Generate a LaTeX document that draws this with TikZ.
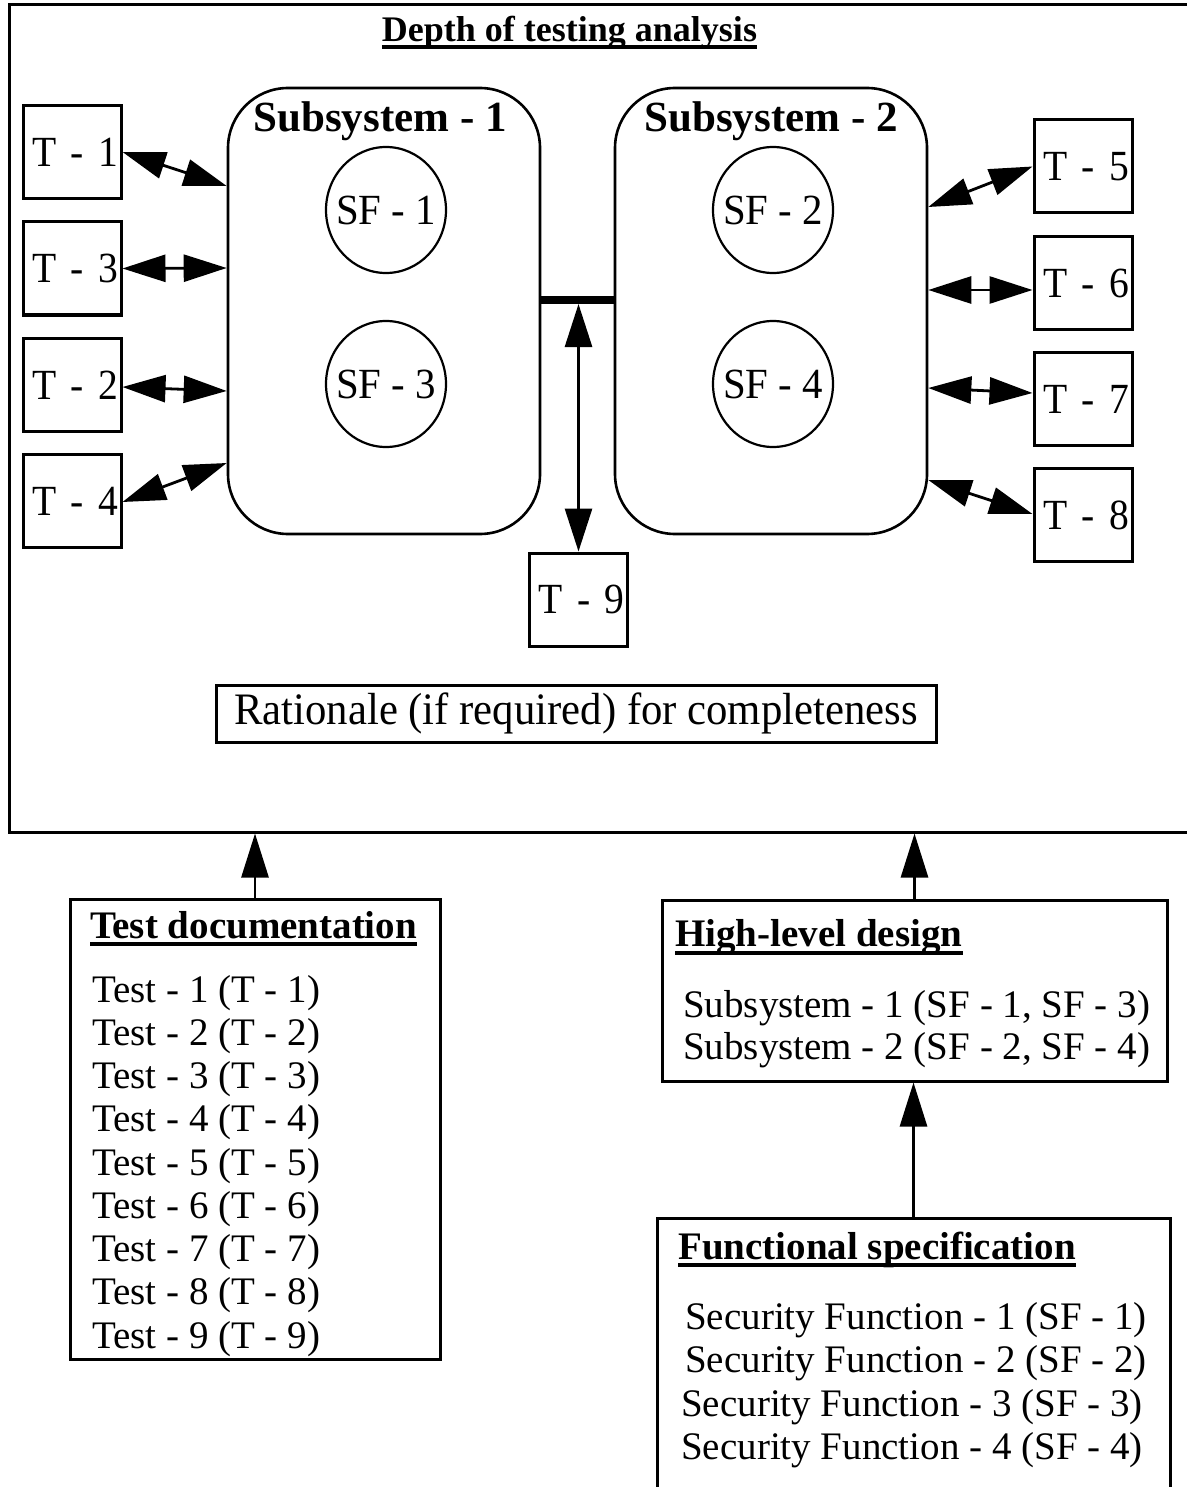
\documentclass[tikz,border=0pt]{standalone}
\usepackage{fontspec}
\setmainfont{Liberation Serif}
\newfontfamily\condfont{Liberation Serif}[FakeStretch=0.95]
\newfontfamily\narrowfont{Liberation Serif}[FakeStretch=0.92, WordSpace=0.6]
\usetikzlibrary{arrows.meta,shapes.geometric}
\tikzset{
 tbox/.style={draw, line width=3pt, minimum width=98pt, minimum height=93pt, text width=92pt, align=right, inner xsep=3pt, inner ysep=0pt, font=\narrowfont\fontsize{43}{47}\selectfont},
 sfell/.style={draw, ellipse, line width=2.2pt, minimum width=120pt, minimum height=126pt, inner sep=0pt},
 sftext/.style={font=\condfont\fontsize{43}{47}\selectfont, inner sep=0pt},
 subsys/.style={draw, line width=2.6pt, rounded corners=60pt, minimum width=312pt, minimum height=446pt, inner sep=0pt},
 subtitle/.style={anchor=base, inner sep=0pt, font=\bfseries\fontsize{43}{47}\selectfont},
 dbl/.style={line width=2.8pt, {Triangle[length=43pt,width=27pt]}-{Triangle[length=43pt,width=27pt]}},
 arr/.style={line width=2.8pt, -{Triangle[length=44pt,width=27pt]}},
 boxstyle/.style={draw, line width=3pt, inner sep=0pt},
 bodytext/.style={anchor=base west, inner sep=0pt, font=\fontsize{39}{43}\selectfont},
 headtext/.style={anchor=base west, inner sep=0pt, font=\bfseries\fontsize{39}{43}\selectfont},
 uline/.style={line width=3.2pt},
}
\begin{document}
\begin{tikzpicture}[x=1pt,y=-1pt]
\useasboundingbox (0,0) rectangle (1186,1487);
% outer frame
\node[boxstyle, minimum width=1190pt, minimum height=827pt] (outer) at (604,418.5) {};
\node[anchor=base, inner sep=0pt, font=\bfseries\fontsize{36}{40}\selectfont] (title) at (569.5,42) {Depth of testing analysis};
\draw[uline] ([yshift=-5pt]title.base west) -- ([yshift=-5pt]title.base east);
% subsystems
\node[subsys] (s1) at (384,311) {};
\node[subsys] (s2) at (771,311) {};
\node[subtitle] (s1t) at (380,132) {Subsystem - 1};
\node[subtitle] (s2t) at (771,132) {Subsystem - 2};
% security functions
\node[sfell] (sf1) at (386,210) {};
\node[sfell] (sf3) at (386,384) {};
\node[sfell] (sf2) at (773,210) {};
\node[sfell] (sf4) at (773,384) {};
\node[sftext] (sf1t) at (sf1.center) {SF - 1};
\node[sftext] (sf3t) at (sf3.center) {SF - 3};
\node[sftext] (sf2t) at (sf2.center) {SF - 2};
\node[sftext] (sf4t) at (sf4.center) {SF - 4};
% tests
\node[tbox] (t1) at (72,152) {T - 1};
\node[tbox] (t3) at (72,268.5) {T - 3};
\node[tbox] (t2) at (72,385) {T - 2};
\node[tbox] (t4) at (72,501) {T - 4};
\node[tbox] (t5) at (1083,166.5) {T - 5};
\node[tbox] (t6) at (1083,283) {T - 6};
\node[tbox] (t7) at (1083,399) {T - 7};
\node[tbox] (t8) at (1083,515) {T - 8};
\node[tbox] (t9) at (578.5,599.5) {T - 9};
% connectors
\draw[dbl] (t1.east) -- ([yshift=125pt]s1.west);
\draw[dbl] (t3.east) -- ([yshift=43pt]s1.west);
\draw[dbl] ([yshift=-2pt]t2.east) -- ([yshift=-80pt]s1.west);
\draw[dbl] ([yshift=-1pt]t4.east) -- ([yshift=-152pt]s1.west);
\draw[dbl] (t5.west) -- ([yshift=104pt]s2.east);
\draw[dbl] ([yshift=-7pt]t6.west) -- ([yshift=21pt]s2.east);
\draw[dbl] ([yshift=6pt]t7.west) -- ([yshift=-77pt]s2.east);
\draw[dbl] ([yshift=1pt]t8.west) -- ([yshift=-169pt]s2.east);
\draw[line width=8pt] ([yshift=11pt]s1.east) -- ([yshift=11pt]s2.west);
\coordinate (barmid) at (578.5,304);
\draw[dbl] (barmid) -- (t9.north);
% rationale
\node[boxstyle, minimum width=720pt, minimum height=57pt, font=\condfont\fontsize{45}{49}\selectfont] (rat) at (576,713.5) {Rationale (if required) for completeness};
% test documentation
\node[boxstyle, minimum width=370pt, minimum height=460pt] (td) at (255,1129) {};
\node[headtext] (tdh) at (90,938) {Test documentation};
\draw[uline] ([yshift=-6pt]tdh.base west) -- ([yshift=-6pt]tdh.base east);
\foreach \i in {1,...,9}
  \node[bodytext] (td\i) at (92,{1002+43.25*(\i-1)}) {Test - \i{} (T - \i)};
% high-level design
\node[boxstyle, minimum width=505pt, minimum height=181pt] (hld) at (914.5,990.5) {};
\node[headtext] (hldh) at (675,946) {High-level design};
\draw[uline] ([yshift=-7pt]hldh.base west) -- ([yshift=-7pt]hldh.base east);
\node[bodytext] (hld1) at (683,1017) {Subsystem - 1 (SF - 1, SF - 3)};
\node[bodytext] (hld2) at (683,1059) {Subsystem - 2 (SF - 2, SF - 4)};
% functional specification
\node[boxstyle, minimum width=513pt, minimum height=282pt] (fs) at (913.5,1359) {};
\node[headtext] (fsh) at (678,1259) {Functional specification};
\draw[uline] ([yshift=-6pt]fsh.base west) -- ([yshift=-6pt]fsh.base east);
\node[bodytext] (fs1) at (685,1329) {Security Function - 1 (SF - 1)};
\node[bodytext] (fs2) at (685,1372) {Security Function - 2 (SF - 2)};
\node[bodytext] (fs3) at (681,1416) {Security Function - 3 (SF - 3)};
\node[bodytext] (fs4) at (681,1459) {Security Function - 4 (SF - 4)};
% vertical arrows
\draw[arr] (td.north) -- (td.north |- outer.south);
\draw[arr] (hld.north) -- (hld.north |- outer.south);
\draw[arr] (fs.north) -- (fs.north |- hld.south);
\end{tikzpicture}
\end{document}
